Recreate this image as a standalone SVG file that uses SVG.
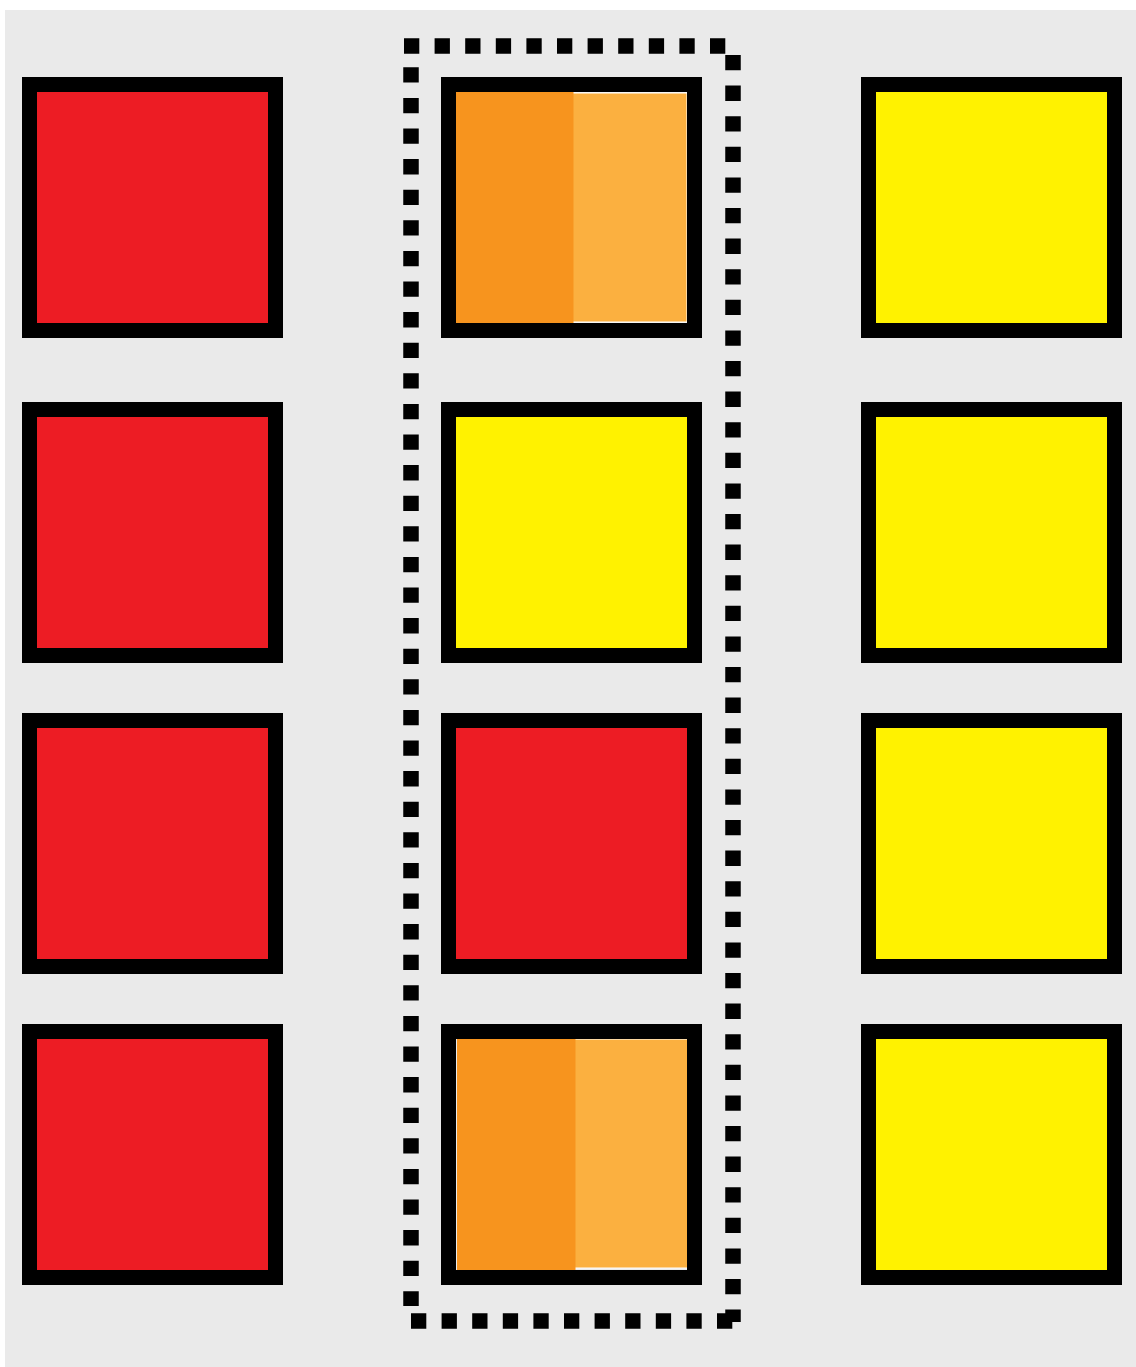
<svg xmlns="http://www.w3.org/2000/svg" width="1136" height="1367" viewBox="0 0 1136 1367">
<style>
.box{stroke:#000;stroke-width:15}
.red{fill:#ED1C24}
.yel{fill:#FFF200}
.dk{fill:#F7941E}
.lt{fill:#FBB040;stroke:#fff;stroke-width:1}
.frame{fill:none}
.dash{stroke:#000;stroke-width:15.5;stroke-dasharray:15.3 15.3;fill:none}
</style>
<rect x="0" y="0" width="1136" height="1367" fill="#fff"/>
<rect x="5" y="10" width="1131" height="1357" fill="#EAEAEA"/>
<g id="group-frame">
<line class="dash" x1="404" y1="46" x2="728" y2="46"/>
<line class="dash" x1="411" y1="67.3" x2="411" y2="1306"/>
<line class="dash" x1="733" y1="55" x2="733" y2="1322"/>
<line class="dash" x1="411" y1="1321" x2="733" y2="1321"/>
</g>
<g id="n-r1c1"><rect class="box red" x="29.5" y="84.5" width="246" height="246"/></g>
<g id="n-r2c1"><rect class="box red" x="29.5" y="409.5" width="246" height="246"/></g>
<g id="n-r3c1"><rect class="box red" x="29.5" y="720.5" width="246" height="246"/></g>
<g id="n-r4c1"><rect class="box red" x="29.5" y="1031.5" width="246" height="246"/></g>
<g id="n-r1c2">
<rect class="lt" x="572" y="93" width="115" height="229"/>
<rect class="dk" x="456" y="92" width="117.5" height="232"/>
<rect class="box frame" x="448.5" y="84.5" width="246" height="246"/>
</g>
<g id="n-r2c2"><rect class="box yel" x="448.5" y="409.5" width="246" height="246"/></g>
<g id="n-r3c2"><rect class="box red" x="448.5" y="720.5" width="246" height="246"/></g>
<g id="n-r4c2">
<rect class="lt" x="574" y="1039" width="114" height="229"/>
<rect class="dk" x="457" y="1039" width="118.5" height="231"/>
<rect class="box frame" x="448.5" y="1031.5" width="246" height="246"/>
</g>
<g id="n-r1c3"><rect class="box yel" x="868.5" y="84.5" width="246" height="246"/></g>
<g id="n-r2c3"><rect class="box yel" x="868.5" y="409.5" width="246" height="246"/></g>
<g id="n-r3c3"><rect class="box yel" x="868.5" y="720.5" width="246" height="246"/></g>
<g id="n-r4c3"><rect class="box yel" x="868.5" y="1031.5" width="246" height="246"/></g>
</svg>
